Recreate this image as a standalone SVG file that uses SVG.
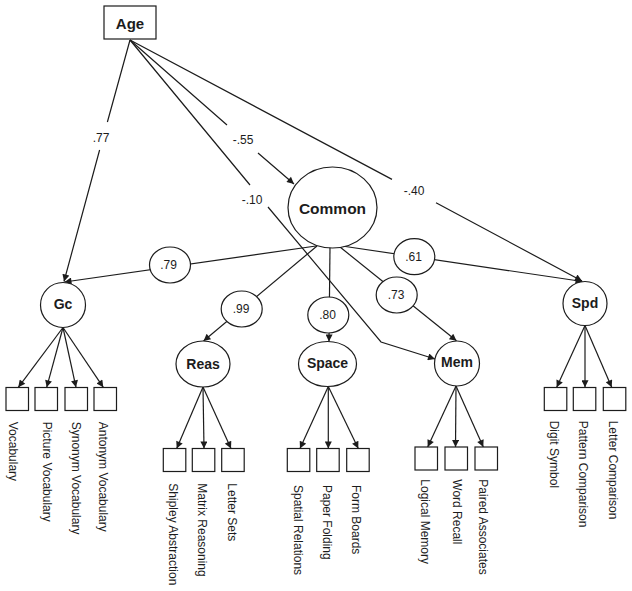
<svg xmlns="http://www.w3.org/2000/svg" width="632" height="591" viewBox="0 0 632 591">
<style>
  .ln { fill: none; stroke: #1c1c1c; stroke-width: 1.2; }
  .arr { marker-end: url(#ah); }
  .nd { fill: #fff; stroke: #1c1c1c; stroke-width: 1.2; }
  .box { fill: #fff; stroke: #1c1c1c; stroke-width: 1.2; }
  .lat { font-family: "Liberation Sans", Arial, sans-serif; font-weight: bold; font-size: 14px; fill: #1c1c1c; text-anchor: middle; }
  .cf { font-family: "Liberation Sans", Arial, sans-serif; font-size: 12px; fill: #1c1c1c; text-anchor: middle; }
  .ind { font-family: "Liberation Sans", Arial, sans-serif; font-size: 12px; fill: #1c1c1c; }
</style>
<defs>
  <marker id="ah" viewBox="0 0 10 10" refX="10" refY="5" markerUnits="userSpaceOnUse" markerWidth="9" markerHeight="7" orient="auto">
    <path d="M0,0 L10,5 L0,10 z" fill="#1c1c1c"/>
  </marker>
</defs>
<rect width="632" height="591" fill="#fff"/>

<g id="connectors">
  <!-- Age paths -->
  <path class="ln arr" d="M130,40 L107.4,122 M99.6,150 L64,281.5"/>
  <path class="ln arr" d="M130,40 L227,125 M258,153 L294,184"/>
  <path class="ln arr" d="M130,40 L250,185 M268,207 L381,342 L435,359"/>
  <path class="ln arr" d="M130,40 L392,179.4 M436,202.8 L582,281"/>
  <!-- Common paths -->
  <path class="ln arr" d="M316,246 L64.5,282"/>
  <path class="ln arr" d="M317,246 L203.5,341"/>
  <path class="ln arr" d="M330,247 L329,341.5"/>
  <path class="ln arr" d="M340,247 L456.5,340.8"/>
  <path class="ln arr" d="M342,246 L582.5,281.5"/>
  <!-- Gc indicators -->
  <path class="ln arr" d="M63,327.5 L18.3,387.3"/>
  <path class="ln arr" d="M63,327.5 L46.7,387.3"/>
  <path class="ln arr" d="M63,327.5 L76,387.3"/>
  <path class="ln arr" d="M63,327.5 L103.3,387.3"/>
  <!-- Reas indicators -->
  <path class="ln arr" d="M203,387 L176.7,448.5"/>
  <path class="ln arr" d="M203,387 L204,448.5"/>
  <path class="ln arr" d="M203,387 L231,448.5"/>
  <!-- Space indicators -->
  <path class="ln arr" d="M328.3,386.5 L300,448.5"/>
  <path class="ln arr" d="M328.3,386.5 L328.3,448.5"/>
  <path class="ln arr" d="M328.3,386.5 L358.3,448.5"/>
  <!-- Mem indicators -->
  <path class="ln arr" d="M456,386 L427.7,447"/>
  <path class="ln arr" d="M456,386 L455.5,447"/>
  <path class="ln arr" d="M456,386 L483.3,447"/>
  <!-- Spd indicators -->
  <path class="ln arr" d="M585,325.5 L556.7,387.3"/>
  <path class="ln arr" d="M585,325.5 L585,387.3"/>
  <path class="ln arr" d="M585,325.5 L611.7,387.3"/>
</g>

<g id="coefficients">
  <text class="cf" x="101" y="142.3">.77</text>
  <text class="cf" x="243" y="144.3">-.55</text>
  <text class="cf" x="252" y="203.6">-.10</text>
  <text class="cf" x="414" y="195">-.40</text>
  <g id="c79"><ellipse class="nd" cx="170" cy="265" rx="20.5" ry="18"/><text class="cf" x="168.5" y="269">.79</text></g>
  <g id="c99"><ellipse class="nd" cx="241.7" cy="309" rx="20.5" ry="18"/><text class="cf" x="241" y="313.3">.99</text></g>
  <g id="c80"><ellipse class="nd" cx="328.3" cy="315" rx="20.5" ry="18"/><text class="cf" x="327.5" y="319.3">.80</text></g>
  <g id="c73"><ellipse class="nd" cx="396.7" cy="295" rx="20.5" ry="18"/><text class="cf" x="396" y="299.3">.73</text></g>
  <g id="c61"><ellipse class="nd" cx="414.3" cy="256.7" rx="20.5" ry="18"/><text class="cf" x="413.5" y="261">.61</text></g>
</g>

<g id="age">
  <rect class="box" x="104" y="6" width="52" height="33"/>
  <text class="lat" x="130" y="28.5" style="font-size:15px">Age</text>
</g>
<g id="common">
  <ellipse class="nd" cx="332.5" cy="207.5" rx="44.5" ry="40.5"/>
  <text class="lat" x="332.5" y="213.5" style="font-size:15.5px">Common</text>
</g>
<g id="gc">
  <circle class="nd" cx="63" cy="305" r="22.5"/>
  <text class="lat" x="63" y="308.5">Gc</text>
</g>
<g id="reas">
  <ellipse class="nd" cx="203" cy="364" rx="27" ry="23"/>
  <text class="lat" x="203" y="368.5">Reas</text>
</g>
<g id="space">
  <ellipse class="nd" cx="327.5" cy="364" rx="29" ry="22.5"/>
  <text class="lat" x="327.5" y="367.5">Space</text>
</g>
<g id="mem">
  <circle class="nd" cx="457" cy="363.5" r="22.5"/>
  <text class="lat" x="457" y="367">Mem</text>
</g>
<g id="spd">
  <circle class="nd" cx="585" cy="303.5" r="22"/>
  <text class="lat" x="585" y="308.3">Spd</text>
</g>

<g id="gc-indicators">
  <rect class="box" x="6" y="387.5" width="22.5" height="23"/>
  <rect class="box" x="35" y="387.5" width="22.5" height="23"/>
  <rect class="box" x="65" y="387.5" width="22.5" height="23"/>
  <rect class="box" x="94" y="387.5" width="22.5" height="23"/>
  <text class="ind" transform="translate(9,421.7) rotate(90)">Vocabulary</text>
  <text class="ind" transform="translate(42.7,421.7) rotate(90)">Picture Vocabulary</text>
  <text class="ind" transform="translate(72,421.7) rotate(90)">Synonym Vocabulary</text>
  <text class="ind" transform="translate(99,421.7) rotate(90)">Antonym Vocabulary</text>
</g>
<g id="reas-indicators">
  <rect class="box" x="163.3" y="448.5" width="22.5" height="23"/>
  <rect class="box" x="192.3" y="448.5" width="22.5" height="23"/>
  <rect class="box" x="221.7" y="448.5" width="22.5" height="23"/>
  <text class="ind" transform="translate(169.3,483.3) rotate(90)">Shipley Abstraction</text>
  <text class="ind" transform="translate(197.7,483.3) rotate(90)">Matrix Reasoning</text>
  <text class="ind" transform="translate(227.7,483.3) rotate(90)">Letter Sets</text>
</g>
<g id="space-indicators">
  <rect class="box" x="287.3" y="448.5" width="22.5" height="23"/>
  <rect class="box" x="316.7" y="448.5" width="22.5" height="23"/>
  <rect class="box" x="346.7" y="448.5" width="22.5" height="23"/>
  <text class="ind" transform="translate(294.3,485) rotate(90)">Spatial Relations</text>
  <text class="ind" transform="translate(322.7,485) rotate(90)">Paper Folding</text>
  <text class="ind" transform="translate(352,485) rotate(90)">Form Boards</text>
</g>
<g id="mem-indicators">
  <rect class="box" x="415" y="447" width="22.5" height="23"/>
  <rect class="box" x="445" y="447" width="22.5" height="23"/>
  <rect class="box" x="475" y="447" width="22.5" height="23"/>
  <text class="ind" transform="translate(421,479.3) rotate(90)">Logical Memory</text>
  <text class="ind" transform="translate(452.7,479.3) rotate(90)">Word Recall</text>
  <text class="ind" transform="translate(479.3,479.3) rotate(90)">Paired Associates</text>
</g>
<g id="spd-indicators">
  <rect class="box" x="544.3" y="387.5" width="22.5" height="23"/>
  <rect class="box" x="573.3" y="387.5" width="22.5" height="23"/>
  <rect class="box" x="603.3" y="387.5" width="22.5" height="23"/>
  <text class="ind" transform="translate(550.3,420.7) rotate(90)">Digit Symbol</text>
  <text class="ind" transform="translate(579.3,420.7) rotate(90)">Pattern Comparison</text>
  <text class="ind" transform="translate(609.3,420.7) rotate(90)">Letter Comparison</text>
</g>
</svg>
